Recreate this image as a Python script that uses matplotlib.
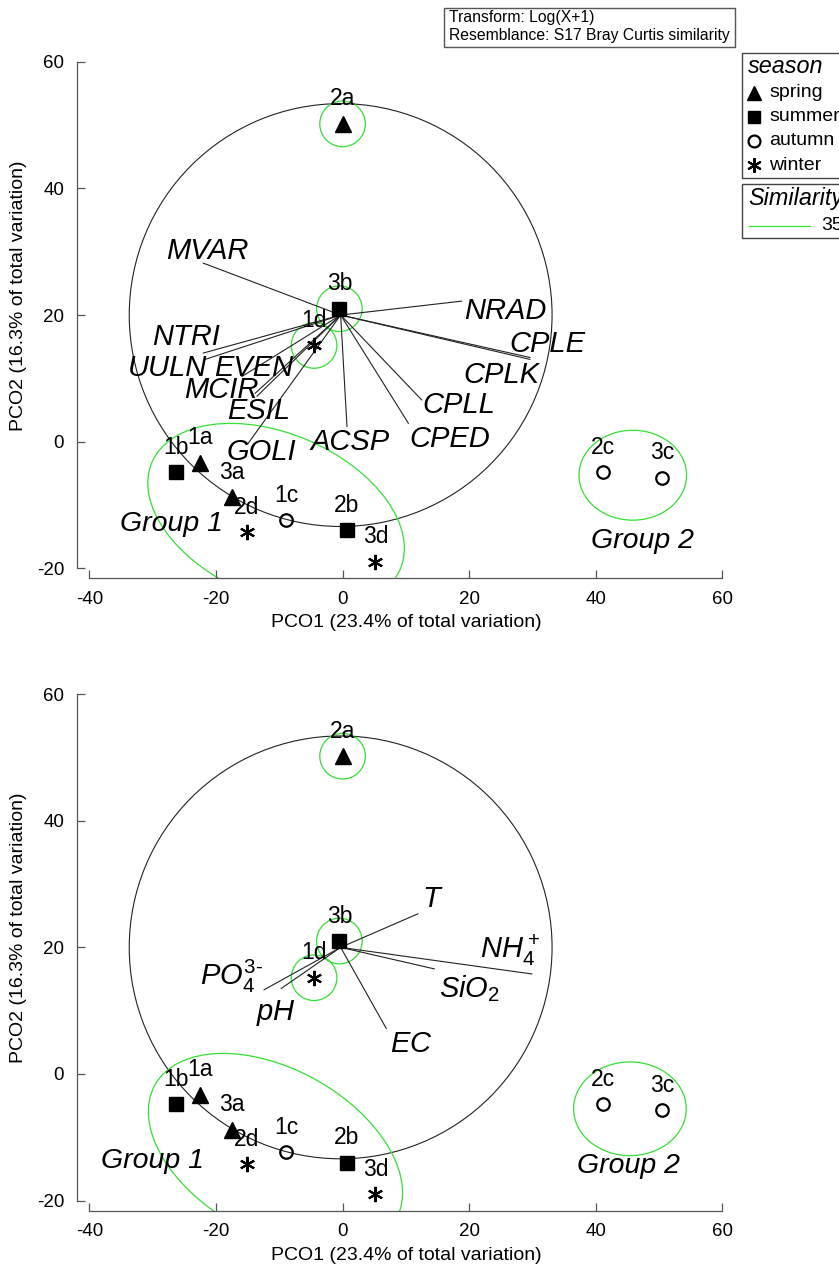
import matplotlib.pyplot as plt
from matplotlib.patches import Circle, Ellipse, Rectangle
from matplotlib.lines import Line2D

plt.rcParams['font.family'] = ['Liberation Sans', 'DejaVu Sans']
plt.rcParams['mathtext.fontset'] = 'custom'
plt.rcParams['mathtext.it'] = 'Liberation Sans:italic'
plt.rcParams['mathtext.rm'] = 'Liberation Sans'
plt.rcParams['axes.unicode_minus'] = False

W, H = 839, 1265

# PCO scores of the samples
sites = ['1a', '2a', '3a', '1b', '2b', '3b', '1c', '2c', '3c', '1d', '2d', '3d']
seasons = ['spring', 'spring', 'spring', 'summer', 'summer', 'summer',
           'autumn', 'autumn', 'autumn', 'winter', 'winter', 'winter']
pco1 = [-22.5, 0.0, -17.5, -26.3, 0.7, -0.5, -8.9, 41.1, 50.5, -4.5, -15.1, 5.2]
pco2 = [-3.3, 50.2, -8.8, -4.8, -14.0, 21.0, -12.4, -4.8, -5.7, 15.2, -14.3, -19.0]
season_names = ['spring', 'summer', 'autumn', 'winter']

# sites with their own 35% similarity circle
single_sites = ['2a', '3b', '1d']
single_radius = 3.6

# vector overlay origin and correlation circle
vec_origin = [-0.3, 20.0]
corr_radius = 33.4

# top panel: taxa vectors
taxa = ['MVAR', 'NTRI', 'UULN', 'EVEN', 'MCIR', 'ESIL', 'GOLI',
        'ACSP', 'CPED', 'CPLL', 'CPLK', 'CPLE', 'NRAD']
taxa_x = [-22.0, -22.0, -21.7, -15.9, -13.8, -13.5, -14.9,
          0.7, 10.4, 12.5, 29.6, 29.6, 18.8]
taxa_y = [28.2, 14.0, 13.0, 10.3, 7.65, 7.2, -0.25,
          2.4, 2.9, 6.6, 13.0, 13.3, 22.2]
taxa_lx = [-21.3, -24.8, -27.7, -14.0, -19.2, -13.2, -12.9,
           1.1, 16.9, 18.3, 25.1, 32.4, 25.7]
taxa_ly = [30.1, 16.6, 11.6, 11.6, 8.2, 4.8, -1.6,
           0.0, 0.4, 5.8, 10.6, 15.5, 20.6]

# bottom panel: environmental vectors
env = [r'$T$', r'$NH_4^+$', r'$SiO_2$', r'$EC$', r'$PO_4^{3\text{-}}$', r'$pH$']
env_x = [11.9, 29.9, 14.5, 6.9, -12.4, -9.7]
env_y = [25.3, 15.8, 16.6, 7.2, 13.3, 13.5]
env_lx = [14.3, 26.5, 20.1, 10.9, -17.6, -10.5]
env_ly = [27.7, 19.6, 13.5, 4.8, 15.4, 9.6]

# group ellipses: centre x, centre y, width, height, angle
group1_top = [-10.5, -11.7, 42.7, 25.9, -23.3]
group2_top = [45.85, -5.3, 17.0, 14.2, 0]
group1_bot = [-10.6, -12.35, 43.6, 26.2, -29.1]
group2_bot = [45.4, -5.5, 17.8, 14.8, 0]
grp_lab_top = [[-27.0, -13.0], [47.4, -15.7]]
grp_lab_bot = [[-30.0, -13.7], [45.1, -14.6]]

marker_style = {
    'spring': dict(marker='^', ms=11, mfc='black', mec='black'),
    'summer': dict(marker='s', ms=9.5, mfc='black', mec='black'),
    'autumn': dict(marker='o', ms=9, mfc='none', mec='black', mew=1.6),
    'winter': dict(marker=(6, 2, 0), ms=11, mfc='black', mec='black', mew=1.5),
}
GREEN = '#33e033'


def px(x, y):
    return x / W, 1 - y / H


def draw_panel(ax, names, vx, vy, lx, ly, g1, g2, glab):
    ax.set_xlim(-42, 62)
    ax.set_ylim(-21.6, 62)
    for s in ['top', 'right']:
        ax.spines[s].set_visible(False)
    ax.spines['left'].set_bounds(-20, 60)
    ax.spines['bottom'].set_bounds(-40, 60)
    for s in ['left', 'bottom']:
        ax.spines[s].set_color('#555555')
        ax.spines[s].set_linewidth(0.9)
    ax.set_xticks([-40, -20, 0, 20, 40, 60])
    ax.set_yticks([-20, 0, 20, 40, 60])
    ax.tick_params(direction='in', length=6, width=0.9, color='#555555',
                   labelsize=13.5, pad=9)
    ax.set_xlabel('PCO1 (23.4% of total variation)', fontsize=14)
    ax.set_ylabel('PCO2 (16.3% of total variation)', fontsize=14)
    ax.xaxis.set_label_coords(0.5, -0.068)
    ax.yaxis.set_label_coords(-0.075, 0.535)

    ax.add_patch(Circle(vec_origin, corr_radius, fill=False, ec='#222222', lw=0.8))
    for name, x, y, tx, ty in zip(names, vx, vy, lx, ly):
        ax.plot([vec_origin[0], x], [vec_origin[1], y], color='#222222', lw=0.8)
        ax.text(tx, ty, name, fontsize=21, style='italic', ha='center', va='center')

    for s in single_sites:
        i = sites.index(s)
        ax.add_patch(Circle((pco1[i], pco2[i]), single_radius, fill=False,
                            ec=GREEN, lw=0.9))
    for e in (g1, g2):
        ax.add_patch(Ellipse((e[0], e[1]), e[2], e[3], angle=e[4], fill=False,
                             ec=GREEN, lw=0.9))
    for (gx, gy), t in zip(glab, ['Group 1', 'Group 2']):
        ax.text(gx, gy, t, fontsize=20.5, style='italic', ha='center', va='center')

    for site, season, x, y in zip(sites, seasons, pco1, pco2):
        ax.plot([x], [y], ls='none', **marker_style[season])
        ax.annotate(site, (x, y), xytext=(0, 18), textcoords='offset points',
                    ha='center', va='center', fontsize=16.5)


fig = plt.figure(figsize=(W / 100, H / 100), dpi=100)
ax1 = fig.add_axes([0.09142, 0.54277, 0.78462, 0.41834])
ax2 = fig.add_axes([0.09142, 0.04292, 0.78462, 0.41834])

draw_panel(ax1, taxa, taxa_x, taxa_y, taxa_lx, taxa_ly, group1_top, group2_top, grp_lab_top)
draw_panel(ax2, env, env_x, env_y, env_lx, env_ly, group1_bot, group2_bot, grp_lab_bot)

# resemblance note
x0, y0 = px(444.3, 46.7)
x1, y1 = px(735.3, 7.7)
fig.add_artist(Rectangle((x0, y0), x1 - x0, y1 - y0, transform=fig.transFigure,
                         fill=False, ec='#555555', lw=1))
fig.text(*px(449, 17.3), 'Transform: Log(X+1)', fontsize=11.3, va='center')
fig.text(*px(449, 35.7), 'Resemblance: S17 Bray Curtis similarity', fontsize=11.3,
         va='center')

# season legend
x0, y0 = px(741.5, 177.7)
x1, y1 = px(860, 52.7)
fig.add_artist(Rectangle((x0, y0), x1 - x0, y1 - y0, transform=fig.transFigure,
                         fill=False, ec='#444444', lw=1))
fig.text(*px(748, 66.7), 'season', fontsize=16.8, style='italic', va='center')
for k, name in enumerate(season_names):
    yy = 92.7 + 24.1 * k
    st = dict(marker_style[name])
    st['ms'] = st['ms'] * 0.95
    fig.add_artist(Line2D([px(753.5, yy)[0]], [px(753.5, yy)[1]], ls='none',
                          transform=fig.transFigure, **st))
    fig.text(*px(769, yy), name, fontsize=14, va='center')

# similarity legend
x0, y0 = px(741.5, 237.7)
x1, y1 = px(860, 184.3)
fig.add_artist(Rectangle((x0, y0), x1 - x0, y1 - y0, transform=fig.transFigure,
                         fill=False, ec='#444444', lw=1))
fig.text(*px(748, 198.3), 'Similarity', fontsize=16.8, style='italic', va='center')
a, b = px(749, 225.7), px(810, 225.7)
fig.add_artist(Line2D([a[0], b[0]], [a[1], b[1]], color=GREEN, lw=0.9,
                      transform=fig.transFigure))
fig.text(*px(821, 225.7), '35', fontsize=14, va='center')

fig.savefig('out.png', dpi=100)
